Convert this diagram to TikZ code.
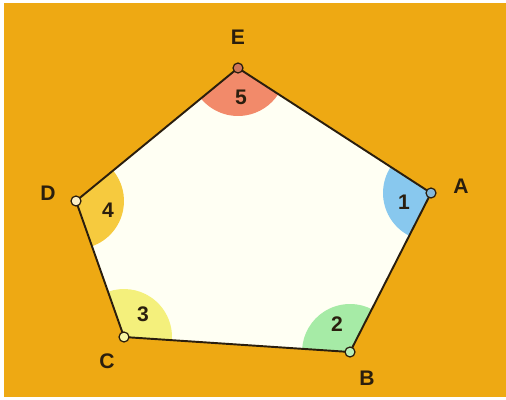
\documentclass[tikz,border=0pt]{standalone}
\usepackage{fontspec}
\setmainfont{Liberation Sans}
\usepackage{xcolor}
\usetikzlibrary{angles,quotes}
\definecolor{bgorange}{HTML}{EEA913}
\definecolor{inside}{HTML}{FFFFF3}
\definecolor{edgeline}{HTML}{2A1E0E}
\definecolor{angleA}{HTML}{88C8EE}
\definecolor{angleB}{HTML}{A6EBA6}
\definecolor{angleC}{HTML}{F4F07C}
\definecolor{angleD}{HTML}{F6CA3E}
\definecolor{angleE}{HTML}{F28A6A}
\tikzset{
  line cap=round,
  line join=round,
  every picture/.style={line width=1.1pt},
  vlabel/.style={font=\fontsize{12}{14}\selectfont\bfseries, text=edgeline, inner sep=0pt},
  anglenum/.style={font=\fontsize{12}{14}\selectfont\bfseries, text=edgeline, inner sep=0pt},
  sector/.style={draw=none, angle radius=0.96cm},
  vertexdot/.style={draw=edgeline, line width=0.7pt}
}
\begin{document}
\begin{tikzpicture}[x=0.02cm, y=0.02cm]
	\useasboundingbox (0, 0) rectangle (506, 399);
	% background
	\fill[white] (0, 0) rectangle (506, 399);
	\fill[bgorange] (4, 2) rectangle (506, 396);

	\coordinate (A) at (431, 206);
	\coordinate (B) at (350, 47);
	\coordinate (C) at (124, 62);
	\coordinate (D) at (76, 198);
	\coordinate (E) at (238, 331);

	% fill the pentagon
	\fill[inside] (A) -- (B) -- (C) -- (D) -- (E) -- cycle;

	% the interior angles
	\pic[sector, fill=angleA] {angle = E--A--B};
	\pic[sector, fill=angleB] {angle = A--B--C};
	\pic[sector, fill=angleC] {angle = B--C--D};
	\pic[sector, fill=angleD] {angle = C--D--E};
	\pic[sector, fill=angleE] {angle = D--E--A};

	% draw the sides
	\draw[edgeline] (A) -- (B) -- (C) -- (D) -- (E) -- cycle;

	% the vertices
	\fill[angleA!80!gray, vertexdot] (A) circle (5);
	\fill[angleB!80!white, vertexdot] (B) circle (5);
	\fill[angleC!70!white, vertexdot] (C) circle (5);
	\fill[angleD!30!white, vertexdot] (D) circle (5);
	\fill[angleE!85!black, vertexdot] (E) circle (5);

	% Add labels
	\node[vlabel] (labA) at (461, 213) {A};
	\node[vlabel] (labB) at (367, 21) {B};
	\node[vlabel] (labC) at (107, 38) {C};
	\node[vlabel] (labD) at (48, 206) {D};
	\node[vlabel] (labE) at (238, 362) {E};

	\node[anglenum] (num1) at (404, 197) {1};
	\node[anglenum] (num2) at (337, 75) {2};
	\node[anglenum] (num3) at (143, 85) {3};
	\node[anglenum] (num4) at (108, 189) {4};
	\node[anglenum] (num5) at (241, 302) {5};
\end{tikzpicture}
\end{document}
